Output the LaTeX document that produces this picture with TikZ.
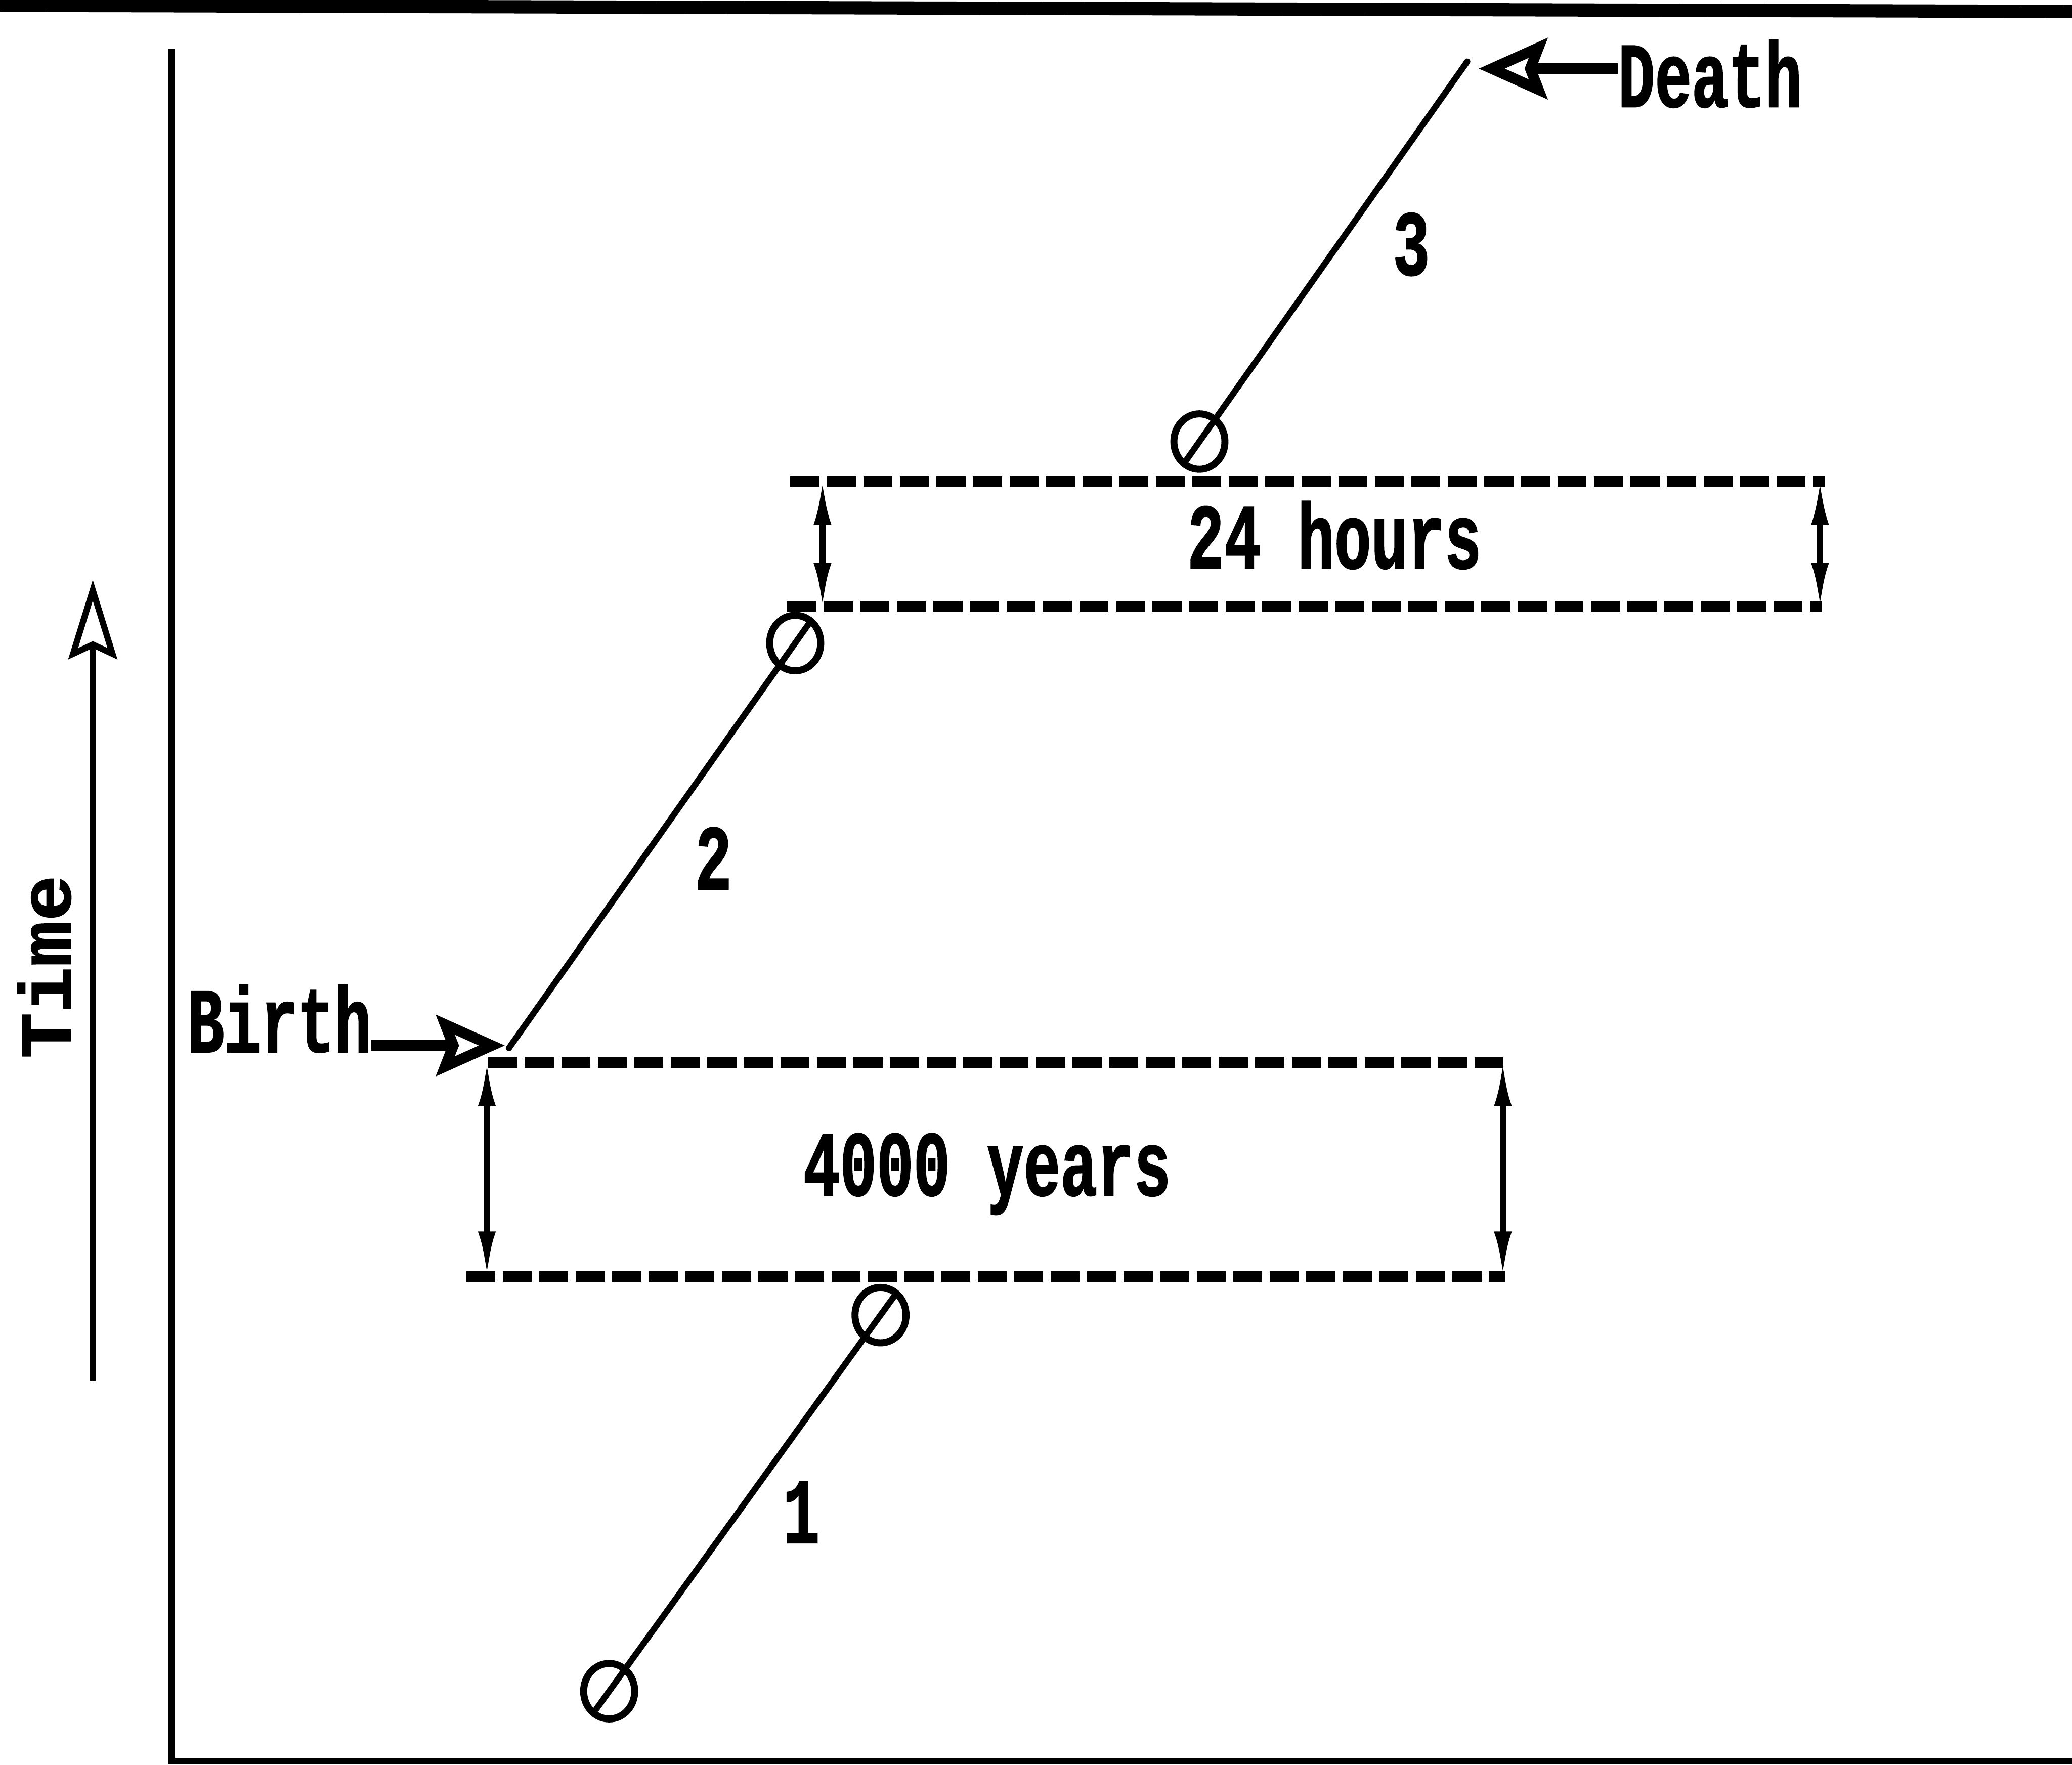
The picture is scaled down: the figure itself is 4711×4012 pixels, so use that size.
\documentclass[tikz,border=0pt]{standalone}
\usepackage{fontspec}
\usetikzlibrary{arrows.meta, calc, shapes.geometric}
\newfontfamily\plotfont{Liberation Mono}[FakeStretch=0.66, FakeBold=1.2]
\newfontfamily\timefont{Liberation Mono}[FakeStretch=1.05, FakeBold=1.2]

\begin{document}
\begin{tikzpicture}[x=0.01cm, y=-0.01cm,
    txt/.style={font=\plotfont\bfseries\fontsize{60}{64}\selectfont, inner sep=0pt, anchor=base},
    tlbl/.style={font=\timefont\bfseries\fontsize{47}{50}\selectfont, inner sep=0pt, anchor=base},
    seg/.style={line width=0.14cm, line cap=round},
    joint/.style={draw, ellipse, line width=0.16cm, minimum width=1.16cm, minimum height=1.26cm, inner sep=0pt},
    gap/.style={line width=0.24cm, dash pattern=on 0.66cm off 0.17cm},
    dim/.style={line width=0.14cm, {Latex[length=1.05cm, width=0.4cm]}-{Latex[length=1.05cm, width=0.4cm]}},
    pointer/.style={line width=0.24cm, -{Stealth[open, length=1.55cm, width=1.36cm, inset=0.25cm]}}]

    \useasboundingbox (0,0) rectangle (4711,4012);

    % frame and axis
    \draw[line width=0.3cm] (0,12) -- (4711,26);
    \draw[line width=0.15cm] (390,110) |- (4711,4004);

    \coordinate (t0) at (211,3140);
    \coordinate (t1) at (211,1318);
    \draw[line width=0.14cm, -{Stealth[open, length=1.8cm, width=1.1cm, inset=0.25cm]}] (t0) -- (t1);
    \node[tlbl, rotate=90] (time) at (160,2198) {Time};

    % the two gaps
    \draw[gap] (1110,2416) -- (3423,2416);
    \draw[gap] (1060,2902) -- (3423,2902);
    \draw[gap] (1797,1094) -- (4150,1094);
    \draw[gap] (1790,1378) -- (4142,1378);

    \draw[dim] (1107,2410) -- (1107,2905);
    \draw[dim] (3417,2410) -- (3417,2905);
    \draw[dim] (1870,1088) -- (1870,1385);
    \draw[dim] (4138,1088) -- (4138,1385);

    \node[txt] (yrs) at (2244,2718) {4000 years};
    \node[txt] (hrs) at (3034,1292) {24 hours};

    % world line
    \node[joint] (p1a) at (1385,3845) {};
    \node[joint] (p1b) at (2002,2990) {};
    \node[joint] (p2) at (1808,1462) {};
    \node[joint] (p3) at (2727,1004) {};
    \coordinate (born) at (1157,2383);
    \coordinate (dies) at (3336,140);

    \draw[seg] ($(p1a.center)!-0.5cm!(p1b.center)$) -- ($(p1b.center)!-0.6cm!(p1a.center)$);
    \draw[seg] (born) -- ($(p2.center)!-0.6cm!(born)$);
    \draw[seg] ($(p3.center)!-0.5cm!(dies)$) -- (dies);

    \node[txt] (n1) at (1822,3508) {1};
    \node[txt] (n2) at (1622,2022) {2};
    \node[txt] (n3) at (3209,625) {3};

    \node[txt] (birth) at (635,2392) {Birth};
    \node[txt] (death) at (3888,243) {Death};
    \coordinate (btip) at (1148,2377);
    \coordinate (dtip) at (3362,156);
    \draw[pointer] (birth.east |- btip) -- (btip);
    \draw[pointer] (death.west |- dtip) -- (dtip);
\end{tikzpicture}
\end{document}
